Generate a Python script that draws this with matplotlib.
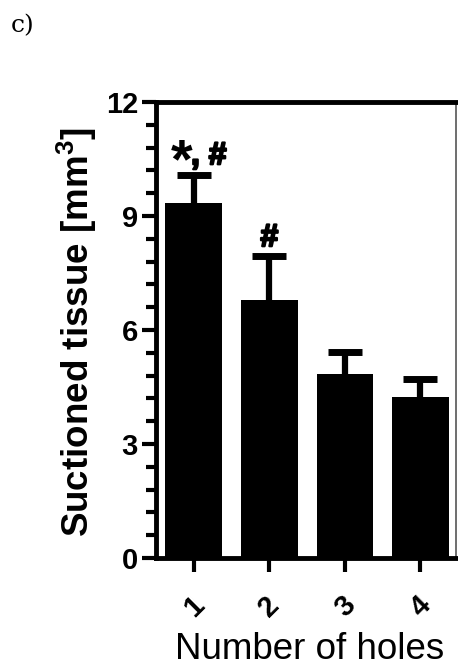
import matplotlib
matplotlib.use("Agg")
import matplotlib.pyplot as plt
import matplotlib.patheffects as pe
from matplotlib.ticker import MultipleLocator
import numpy as np

holes = ["1", "2", "3", "4"]
tissue_mean = [9.35, 6.8, 4.85, 4.25]
tissue_sem = [0.72, 1.15, 0.57, 0.45]
signif = ["*, #", "#", "", ""]

plt.rcParams["font.family"] = ["Liberation Sans", "DejaVu Sans"]
plt.rcParams["mathtext.fontset"] = "custom"
plt.rcParams["mathtext.rm"] = "Liberation Sans:bold"
plt.rcParams["mathtext.bf"] = "Liberation Sans:bold"

fig = plt.figure(figsize=(4.58, 6.67), dpi=100)
ax = fig.add_axes([0.3406, 0.1634, 0.6550, 0.6836])

x = np.arange(1, len(holes) + 1)
ax.bar(x, tissue_mean, width=0.75, color="black", zorder=2)
# upper error only: hide the lower caps sitting on the bar tops
eb = ax.errorbar(x, tissue_mean, yerr=[np.zeros(len(x)), tissue_sem],
                 fmt="none", ecolor="black", elinewidth=4.5, capsize=12,
                 capthick=5, zorder=3)
eb[1][0].set_visible(False)

heavy = [pe.withStroke(linewidth=1.6, foreground="black")]
for xi, m, s, lab in zip(x, tissue_mean, tissue_sem, signif):
    if not lab:
        continue
    top = m + s
    if lab.startswith("*"):
        # big star, then the rest of the mark after it
        ax.annotate("*", (xi, top), xytext=(-9, -1), textcoords="offset points",
                    ha="center", va="baseline", fontsize=40, fontweight="bold")
        ax.annotate(lab[1:], (xi, top), xytext=(-2, 8),
                    textcoords="offset points", ha="left", va="baseline",
                    fontsize=23, fontweight="bold", path_effects=heavy)
    else:
        ax.annotate(lab, (xi, top), xytext=(0, 7), textcoords="offset points",
                    ha="center", va="baseline", fontsize=23, fontweight="bold",
                    path_effects=heavy)

ax.set_xlim(0.5, 4.47)
ax.set_ylim(0, 12)
ax.set_xticks(x)
ax.set_xticklabels(holes, rotation=45, ha="center", fontsize=21,
                   fontweight="bold")
ax.yaxis.set_major_locator(MultipleLocator(3))
ax.yaxis.set_minor_locator(MultipleLocator(0.6))
for t in ax.get_yticklabels():
    t.set_fontsize(21)
    t.set_fontweight("bold")

ax.tick_params(axis="y", which="major", length=10, width=3, pad=3)
ax.tick_params(axis="y", which="minor", length=7.5, width=3)
ax.tick_params(axis="x", which="major", length=10, width=3, pad=14)

for side in ["left", "top", "bottom"]:
    ax.spines[side].set_linewidth(3.5)
ax.spines["right"].set_linewidth(1.2)
ax.spines["right"].set_color("#555555")

ax.set_xlabel("Number of holes", fontsize=26.5)
ax.set_ylabel("Suctioned tissue [mm$^3$]", fontsize=26.5, fontweight="bold")
ax.xaxis.set_label_coords(0.513, -0.162)
ax.yaxis.set_label_coords(-0.19, 0.495)

fig.text(0.024, 0.978, "c)", family="DejaVu Serif", fontsize=18,
         ha="left", va="top")

fig.savefig("out.png", dpi=100)
